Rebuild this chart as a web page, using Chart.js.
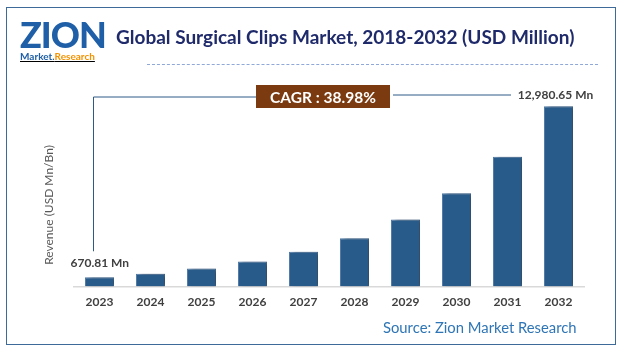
<!DOCTYPE html>
<html>
<head>
<meta charset="utf-8">
<script src="https://cdn.jsdelivr.net/npm/chart.js@4"></script>
<style>
  html, body { margin: 0; padding: 0; background: #fff; }
  #wrap { position: relative; width: 626px; height: 354px; overflow: hidden; }
  #frame { position: absolute; left: 6px; top: 7px; width: 610px; height: 338px;
    border: 1.5px solid #3e6a99; box-sizing: border-box; }
  #chart { position: absolute; left: 0; top: 0; }
  .logo { position: absolute; left: 20px; top: 17px; font-family: "Lato", sans-serif; }
  .logo .big { font-size: 36px; font-weight: 900; color: #1f5fa8; letter-spacing: -1px; line-height: 34px; }
  .logo .small { font-size: 10px; font-weight: 700; line-height: 11px; text-decoration: underline; }
  .title { position: absolute; left: 116px; top: 25px; font-family: "Lato", sans-serif;
    font-weight: 700; font-size: 19px; color: #1f2a6b; white-space: nowrap; }
  .dash { position: absolute; left: 147px; top: 64px; width: 451px; border-top: 1px dashed #8fa8d8; }
  .source { position: absolute; left: 383px; top: 318px; font-family: "Lato", sans-serif;
    font-size: 14.8px; color: #2e75b6; white-space: nowrap; }
</style>
</head>
<body>
<div id="wrap">
  <canvas id="chart" width="626" height="354"></canvas>
  <div id="frame"></div>
  <div class="logo">
    <div class="big">ZION</div>
    <div class="small"><span style="color:#1f5fa8">Market.</span><span style="color:#f39200">Research</span></div>
  </div>
  <div class="title">Global Surgical Clips Market, 2018-2032 (USD Million)</div>
  <div class="dash"></div>
  <div class="source">Source: Zion Market Research</div>
</div>
<script>
const years = ["2023", "2024", "2025", "2026", "2027", "2028", "2029", "2030", "2031", "2032"];
const revenue = [670.81, 932, 1296, 1801, 2503, 3478, 4834, 6719, 9338, 12980.65];
const firstLabel = "670.81 Mn";
const lastLabel = "12,980.65 Mn";
const cagrText = "CAGR : 38.98%";

const chartCanvas = document.getElementById("chart");

// shadow on the bars, like the excel drop shadow
const barShadow = {
  id: "barShadow",
  beforeDatasetsDraw(chart) {
    const ctx = chart.ctx;
    ctx.save();
    ctx.shadowColor = "rgba(0,0,0,0.4)";
    ctx.shadowBlur = 4;
    ctx.shadowOffsetX = 4;
    ctx.shadowOffsetY = 0;
  },
  afterDatasetsDraw(chart) {
    chart.ctx.restore();
  },
};

// value labels, cagr box and connector lines
const annotations = {
  id: "annotations",
  afterDraw(chart) {
    const ctx = chart.ctx;
    const bars = chart.getDatasetMeta(0).data;
    const first = bars[0];
    const last = bars[bars.length - 1];
    const lineY = 95;
    const boxL = 256, boxR = 390, boxT = 85, boxB = 108;

    ctx.save();
    ctx.strokeStyle = "#2e5a87";
    ctx.lineWidth = 1;
    ctx.beginPath();
    ctx.moveTo(first.x - 6, first.y - 26);
    ctx.lineTo(first.x - 6, lineY + 2);
    ctx.lineTo(boxL, lineY + 2);
    ctx.moveTo(boxR + 3, lineY);
    ctx.lineTo(511, lineY);
    ctx.stroke();

    ctx.fillStyle = "#7b3a10";
    ctx.fillRect(boxL, boxT, boxR - boxL, boxB - boxT);
    ctx.fillStyle = "#ffffff";
    ctx.font = "bold 15.5px Lato";
    ctx.textAlign = "center";
    ctx.textBaseline = "middle";
    ctx.fillText(cagrText, (boxL + boxR) / 2, (boxT + boxB) / 2 + 1);

    ctx.fillStyle = "#404040";
    ctx.font = "bold 12px Lato";
    ctx.textAlign = "left";
    ctx.fillText(firstLabel, first.x - 29, first.y - 14);
    ctx.textAlign = "center";
    ctx.fillText(lastLabel, last.x - 3, lineY);
    ctx.restore();
  },
};

const chart = new Chart(chartCanvas.getContext("2d"), {
  type: "bar",
  data: {
    labels: years,
    datasets: [
      {
        data: revenue,
        backgroundColor: "#285a8a",
        borderColor: "#4f7aa6",
        borderWidth: { top: 1, left: 1, right: 1, bottom: 0 },
        barPercentage: 0.57,
        categoryPercentage: 1,
      },
    ],
  },
  options: {
    responsive: false,
    animation: false,
    layout: { padding: { left: 74, right: 42, top: 92, bottom: 37 } },
    plugins: { legend: { display: false }, tooltip: { enabled: false } },
    scales: {
      x: {
        grid: { display: false, drawTicks: false },
        border: { display: true, color: "#d9d9d9", width: 1.5 },
        ticks: { color: "#404040", font: { family: "Lato", size: 12, weight: "bold" }, padding: 8 },
      },
      y: {
        display: false,
        min: 0,
        max: 14000,
      },
    },
  },
  plugins: [barShadow, annotations],
});

// y axis title drawn separately because the axis is hidden
const ctx = chartCanvas.getContext("2d");
ctx.save();
ctx.translate(49, 205);
ctx.rotate(-Math.PI / 2);
ctx.fillStyle = "#595959";
ctx.font = "12px Lato";
ctx.textAlign = "center";
ctx.textBaseline = "middle";
ctx.fillText("Revenue (USD Mn/Bn)", 0, 0);
ctx.restore();
</script>
</body>
</html>
